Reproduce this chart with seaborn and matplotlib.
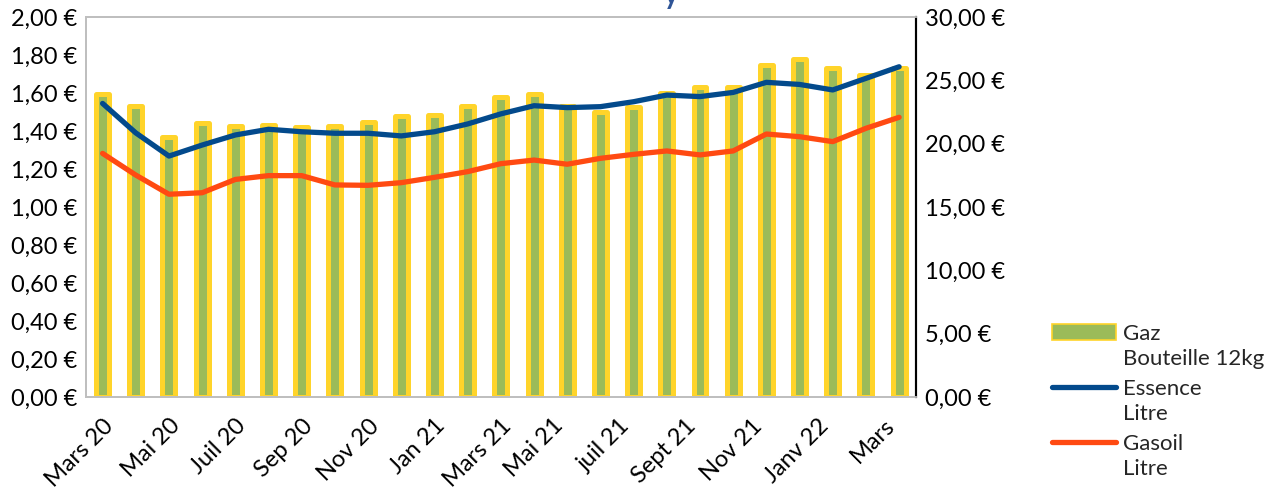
import matplotlib
matplotlib.use("Agg")
import matplotlib.pyplot as plt
import seaborn as sns
import numpy as np
from matplotlib.ticker import FuncFormatter, MultipleLocator
from matplotlib.patches import Patch
from matplotlib.lines import Line2D

mois = ['Mars 20', 'Avr 20', 'Mai 20', 'Juin 20', 'Juil 20', 'Août 20', 'Sep 20', 'Oct 20',
        'Nov 20', 'Déc 20', 'Jan 21', 'Fév 21', 'Mars 21', 'Avr 21', 'Mai 21', 'Juin 21',
        'juil 21', 'Août 21', 'Sept 21', 'Oct 21', 'Nov 21', 'Déc 21', 'Janv 22', 'Fév 22', 'Mars']

# Gaz bouteille 12kg (axe droit)
gaz = [23.9, 23.0, 20.5, 21.6, 21.4, 21.5, 21.3, 21.4, 21.7, 22.2, 22.3, 23.0, 23.7,
       23.9, 23.0, 22.5, 22.9, 24.0, 24.5, 24.5, 26.2, 26.7, 26.0, 25.4, 26.0]
# Essence litre (axe gauche)
essence = [1.545, 1.39, 1.268, 1.326, 1.379, 1.409, 1.396, 1.388, 1.388, 1.374, 1.396, 1.437, 1.49,
           1.533, 1.523, 1.528, 1.554, 1.589, 1.581, 1.603, 1.656, 1.645, 1.616, 1.677, 1.738]
# Gasoil litre (axe gauche)
gasoil = [1.282, 1.168, 1.067, 1.075, 1.145, 1.165, 1.165, 1.116, 1.114, 1.128, 1.156, 1.186, 1.228,
          1.247, 1.225, 1.256, 1.277, 1.295, 1.274, 1.295, 1.384, 1.370, 1.344, 1.414, 1.472]

VERT = '#9BBB59'
JAUNE = '#FFD42A'
BLEU = '#034A8C'
ORANGE = '#FF4A12'

sns.set_style('white')
plt.rcParams['font.family'] = ['Lato', 'DejaVu Sans']

fig = plt.figure(figsize=(12.72, 4.88), dpi=100)
ax = fig.add_axes([0.0676, 0.1865, 0.6523, 0.7787])
ax2 = ax.twinx()

# barres sur l'axe secondaire, derrière les courbes
sns.barplot(x=list(range(len(mois))), y=gaz, ax=ax2, color=VERT, saturation=1,
            edgecolor=JAUNE, linewidth=3.6, width=0.39, native_scale=True)
for p in ax2.patches:
    p.set_joinstyle('round')
ax2.set_axisbelow(True)
ax2.grid(axis='x', color='#D9D9D9', linewidth=1.4)
ax2.grid(axis='y', visible=False)

pos = np.arange(len(mois))
sns.lineplot(x=pos, y=essence, ax=ax, color=BLEU, linewidth=3.8, solid_capstyle='round')
sns.lineplot(x=pos, y=gasoil, ax=ax, color=ORANGE, linewidth=3.8, solid_capstyle='round')

ax.set_zorder(ax2.get_zorder() + 1)
ax.patch.set_visible(False)

ax.set_xlim(-0.5, len(mois) - 0.5)
ax.set_ylim(0, 2)
ax2.set_ylim(0, 30)
ax.yaxis.set_major_locator(MultipleLocator(0.2))
ax2.yaxis.set_major_locator(MultipleLocator(5))


def euro(v, _):
    return f"{v:.2f}".replace('.', ',') + " €"


ax.yaxis.set_major_formatter(FuncFormatter(euro))
ax2.yaxis.set_major_formatter(FuncFormatter(euro))

ax.set_xticks(pos[::2])
ax.set_xticklabels(mois[::2], rotation=45, ha='right', va='top', rotation_mode='anchor')
ax2.set_xticks(pos)
ax2.tick_params(axis='x', labelbottom=False)
ax.tick_params(axis='both', length=0, labelsize=17, colors='black', pad=6)
ax.tick_params(axis='x', pad=13)
ax2.tick_params(axis='y', length=0, labelsize=17, colors='black', pad=7)
ax.set_xlabel('')
ax.set_ylabel('')
ax2.set_ylabel('')

for a in (ax, ax2):
    for s in ('left', 'top', 'bottom'):
        a.spines[s].set_color('#BFBFBF')
        a.spines[s].set_linewidth(1.3)
    a.spines['right'].set_color('black')
    a.spines['right'].set_linewidth(1.5)

handles = [Patch(facecolor=VERT, edgecolor=JAUNE, linewidth=1.2),
           Line2D([], [], color=BLEU, linewidth=3.8, solid_capstyle='round'),
           Line2D([], [], color=ORANGE, linewidth=3.8, solid_capstyle='round')]
leg = fig.legend(handles, ['Gaz', 'Essence', 'Gasoil'], loc='upper left',
                 bbox_to_anchor=(0.827, 0.336), frameon=False, fontsize=16,
                 handlelength=2.9, handletextpad=0.28, labelspacing=1.58, borderpad=0,
                 borderaxespad=0)

# deuxième ligne de chaque entrée, sous le libellé
fig.canvas.draw()
inv = fig.transFigure.inverted()
for t, suite in zip(leg.get_texts(), ['Bouteille 12kg', 'Litre', 'Litre']):
    bb = t.get_window_extent()
    x0, y0 = inv.transform((bb.x0, bb.y0 - 25))
    fig.text(x0, y0, suite, ha='left', va='bottom', fontsize=16)

# titre coupé en haut de l'image
fig.text(0.5275, 0.992, 'y', color='#2F5597', fontsize=20, fontweight='bold',
         ha='center', va='baseline')

fig.savefig('out.png', dpi=100)
